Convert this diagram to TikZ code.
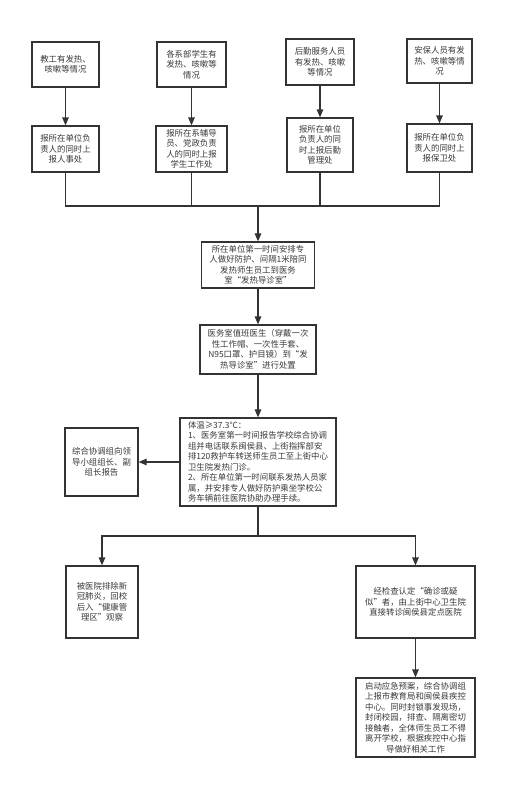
\documentclass[tikz,border=0pt]{standalone}
\usepackage{fontspec}
\newfontfamily\cjk{Noto Sans CJK SC}
\usetikzlibrary{arrows.meta}
\definecolor{linec}{HTML}{333333}
\definecolor{textc}{HTML}{3A3A3A}
\tikzset{
  box/.style={draw=linec, line width=1.2pt, fill=white, inner sep=2pt, align=center,
    font=\cjk\fontsize{8.4}{10.5}\selectfont, text=textc},
  conn/.style={draw=linec, line width=1.2pt},
  arr/.style={conn, -{Triangle[width=6.5pt,length=8pt]}}
}
\begin{document}
\begin{tikzpicture}[x=1pt,y=-1pt]
\useasboundingbox (0,0) rectangle (517,798);
% row 1
\node[box, minimum width=67pt, minimum height=45pt] (A1) at (65.5,64.5) {教工有发热、\\咳嗽等情况};
\node[box, minimum width=69pt, minimum height=45pt] (B1) at (191.5,64.5) {各系部学生有\\发热、咳嗽等\\情况};
\node[box, minimum width=68pt, minimum height=46pt] (C1) at (320,62) {后勤服务人员\\有发热、咳嗽\\等情况};
\node[box, minimum width=65pt, minimum height=44pt] (D1) at (439.5,61) {安保人员有发\\热、咳嗽等情\\况};
% row 2
\node[box, minimum width=67pt, minimum height=46pt] (A2) at (65.5,149) {报所在单位负\\责人的同时上\\报人事处};
\node[box, minimum width=71pt, minimum height=46pt] (B2) at (191.5,149) {报所在系辅导\\员、党政负责\\人的同时上报\\学生工作处};
\node[box, minimum width=66pt, minimum height=54pt] (C2) at (320,145) {报所在单位\\负责人的同\\时上报后勤\\管理处};
\node[box, minimum width=65pt, minimum height=48pt] (D2) at (439.5,148) {报所在单位负\\责人的同时上\\报保卫处};
% middle
\node[box, minimum width=113pt, minimum height=46pt] (E) at (258,265) {所在单位第一时间安排专\\人做好防护、间隔1米陪同\\发热师生员工到医务\\室“发热导诊室”};
\node[box, minimum width=116pt, minimum height=49pt] (F) at (258,349.5) {医务室值班医生（穿戴一次\\性工作帽、一次性手套、\\N95口罩、护目镜）到“发\\热导诊室”进行处置};
\node[box, minimum width=156pt, minimum height=88pt, align=left] (G) at (258,462) {体温≥37.3℃：\\1、医务室第一时间报告学校综合协调\\组并电话联系闽侯县、上街指挥部安\\排120救护车转送师生员工至上街中心\\卫生院发热门诊。\\2、所在单位第一时间联系发热人员家\\属，并安排专人做好防护乘坐学校公\\务车辆前往医院协助办理手续。};
\node[box, minimum width=73pt, minimum height=68pt] (H) at (101.5,462) {综合协调组向领\\导小组组长、副\\组长报告};
\node[box, minimum width=72pt, minimum height=72pt] (I) at (102,602) {被医院排除新\\冠肺炎，回校\\后入“健康管\\理区”观察};
\node[box, minimum width=119pt, minimum height=72pt] (J) at (415.5,602) {经检查认定“确诊或疑\\似”者，由上街中心卫生院\\直接转诊闽侯县定点医院};
\node[box, minimum width=119pt, minimum height=79pt] (K) at (415.5,717.5) {启动应急预案，综合协调组\\上报市教育局和闽侯县疾控\\中心。同时封锁事发现场，\\封闭校园，排查、隔离密切\\接触者，全体师生员工不得\\离开学校，根据疾控中心指\\导做好相关工作};
% coordinates
\coordinate (bus) at (258,206);
\coordinate (split) at (258,536);
% connectors
\draw[arr] (A1) -- (A2);
\draw[arr] (B1) -- (B2);
\draw[arr] (C1) -- (C2);
\draw[arr] (D1) -- (D2);
\draw[conn] (A2.south) |- (bus) -| (D2.south);
\draw[conn] (B2.south) -- (B2.south |- bus);
\draw[conn] (C2.south) -- (C2.south |- bus);
\draw[arr] (bus) -- (E.north);
\draw[arr] (E) -- (F);
\draw[arr] (F) -- (G);
\draw[arr] (G.west) -- (H.east);
\draw[conn] (G.south) -- (split);
\draw[arr] (split) -| (I.north);
\draw[arr] (split) -| (J.north);
\draw[arr] (J) -- (K);
\end{tikzpicture}
\end{document}
